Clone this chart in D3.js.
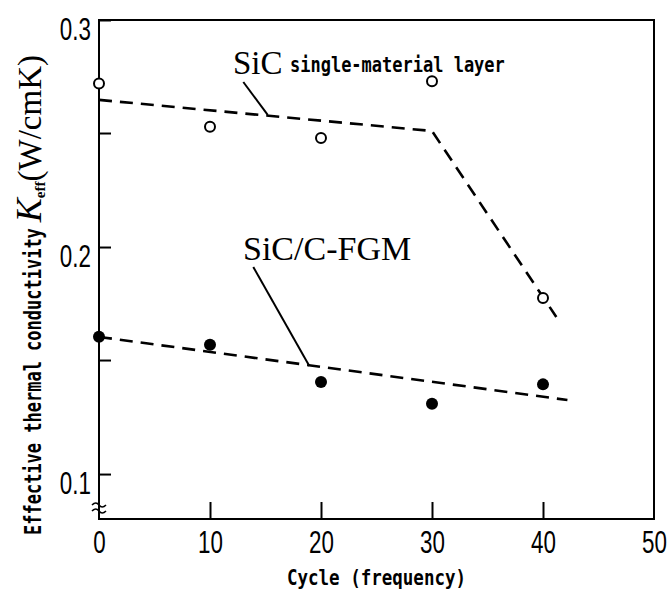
<!DOCTYPE html>
<html>
<head>
<meta charset="utf-8">
<script src="https://cdn.jsdelivr.net/npm/d3@7"></script>
<style>
  body { margin: 0; background: #fff; }
  svg { display: block; background: #fff; }
  .tick text { font-family: "Liberation Sans Narrow", "Liberation Sans", sans-serif; font-size: 32px; fill: #000; }
  .mono { font-family: "DejaVu Sans Mono", monospace; font-weight: bold; }
  .serif { font-family: "Liberation Serif", "Times New Roman", serif; }
</style>
</head>
<body>
<svg id="chart" width="672" height="591"></svg>
<script>
// cycle numbers where samples were measured
const cycles = [0, 10, 20, 30, 40];
// K_eff of SiC single-material layer (open circles)
const sicK = [0.272, 0.253, 0.248, 0.273, 0.1775];
// K_eff of SiC/C-FGM (filled circles)
const fgmK = [0.1605, 0.157, 0.1405, 0.131, 0.1395];

// dashed trend lines
const sicFitX = [0, 30, 41.2];
const sicFitK = [0.2648, 0.2511, 0.1692];
const fgmFitX = [0, 42.2];
const fgmFitK = [0.1604, 0.1326];

// axis ticks
const xTicks = [0, 10, 20, 30, 40, 50];
const yTicks = [0.1, 0.2, 0.3];
const yMinor = [0.15, 0.25];

// label leaders (cycle, K)
const sicLeader = [[13.0, 0.2727], [15.2, 0.2582]];
const fgmLeader = [[13.9, 0.1912], [18.95, 0.1476]];

const svg = d3.select("#chart");

const x = d3.scaleLinear().domain([0, 50]).range([99, 654]);
const y = d3.scaleLinear().domain([0.0802, 0.3]).range([519, 20]);

// frame
svg.append("rect")
    .attr("x", x(0)).attr("y", y(0.3))
    .attr("width", x(50) - x(0)).attr("height", y(0.0802) - y(0.3))
    .attr("fill", "none").attr("stroke", "#000").attr("stroke-width", 2);

// x axis
const xAxis = svg.append("g")
    .attr("transform", `translate(0,${y(0.0802)})`)
    .call(d3.axisBottom(x).tickValues(xTicks).tickSize(-17).tickPadding(11).tickFormat(d3.format("d")));
xAxis.select(".domain").remove();
xAxis.selectAll(".tick line").attr("stroke-width", 2).filter(d => d === 0 || d === 50).remove();
xAxis.selectAll(".tick text").attr("transform", "scale(0.7,1)");

// y axis
const yAxis = svg.append("g")
    .attr("transform", `translate(${x(0)},0)`)
    .call(d3.axisLeft(y).tickValues(yTicks).tickSize(-12).tickPadding(6).tickFormat(d3.format(".1f")));
yAxis.select(".domain").remove();
yAxis.selectAll(".tick line").attr("stroke-width", 2);
yAxis.selectAll(".tick text")
    .attr("x", -8 / 0.7)
    .attr("dy", "0.6em")
    .attr("transform", "scale(0.7,1)");

svg.append("g")
  .selectAll("line")
  .data(yMinor)
  .join("line")
    .attr("x1", x(0)).attr("x2", x(0) + 12)
    .attr("y1", d => y(d)).attr("y2", d => y(d))
    .attr("stroke", "#000").attr("stroke-width", 2);

// axis break marks
const by = 508;
svg.append("g")
    .attr("fill", "none").attr("stroke", "#000").attr("stroke-width", 1.6)
  .selectAll("path")
  .data([-3, 3])
  .join("path")
    .attr("d", d => `M${x(0) - 7},${by + d} q4,-4 7,0 t7,0`);

// trend lines
const line = d3.line().x(d => x(d[0])).y(d => y(d[1]));
svg.append("path")
    .datum(d3.zip(sicFitX, sicFitK))
    .attr("d", line)
    .attr("fill", "none").attr("stroke", "#000").attr("stroke-width", 2.6)
    .attr("stroke-dasharray", "13,8");
svg.append("path")
    .datum(d3.zip(fgmFitX, fgmFitK))
    .attr("d", line)
    .attr("fill", "none").attr("stroke", "#000").attr("stroke-width", 2.6)
    .attr("stroke-dasharray", "13,8");

// leaders
svg.append("g")
    .attr("stroke", "#000").attr("stroke-width", 2)
  .selectAll("path")
  .data([sicLeader, fgmLeader])
  .join("path")
    .attr("d", line);

// points
svg.append("g")
  .selectAll("circle")
  .data(d3.zip(cycles, sicK))
  .join("circle")
    .attr("cx", d => x(d[0])).attr("cy", d => y(d[1]))
    .attr("r", 5)
    .attr("fill", "#fff").attr("stroke", "#000").attr("stroke-width", 2);
svg.append("g")
  .selectAll("circle")
  .data(d3.zip(cycles, fgmK))
  .join("circle")
    .attr("cx", d => x(d[0])).attr("cy", d => y(d[1]))
    .attr("r", 6)
    .attr("fill", "#000");

// series labels
svg.append("text").attr("class", "serif")
    .attr("x", 233).attr("y", 74)
    .attr("font-size", 33)
    .text("SiC");
svg.append("text").attr("class", "mono")
    .attr("transform", "translate(290,72) scale(1,1.2)")
    .attr("font-size", 17)
    .text("single-material layer");
svg.append("text").attr("class", "serif")
    .attr("x", 243).attr("y", 260)
    .attr("font-size", 34)
    .text("SiC/C-FGM");

// axis titles
svg.append("text").attr("class", "mono")
    .attr("transform", `translate(${x(25)},585) scale(1,1.25)`)
    .attr("text-anchor", "middle")
    .attr("font-size", 17.5)
    .text("Cycle (frequency)");

const yMono = svg.append("text").attr("class", "mono")
    .attr("transform", "translate(41,535) rotate(-90) scale(1,1.3)")
    .attr("font-size", 17)
    .text("Effective thermal conductivity");
const monoLen = yMono.node().getComputedTextLength();

const yt = svg.append("text")
    .attr("transform", `translate(41,${535 - monoLen - 6}) rotate(-90)`);
yt.append("tspan").attr("class", "serif").attr("font-style", "italic").attr("font-size", 36)
    .text("K");
yt.append("tspan").attr("class", "serif").attr("font-weight", "bold").attr("font-size", 15)
    .attr("dy", 4).text("eff");
yt.append("tspan").attr("class", "serif").attr("font-size", 33)
    .attr("dy", -4).text("(W/cmK)");
</script>
</body>
</html>
